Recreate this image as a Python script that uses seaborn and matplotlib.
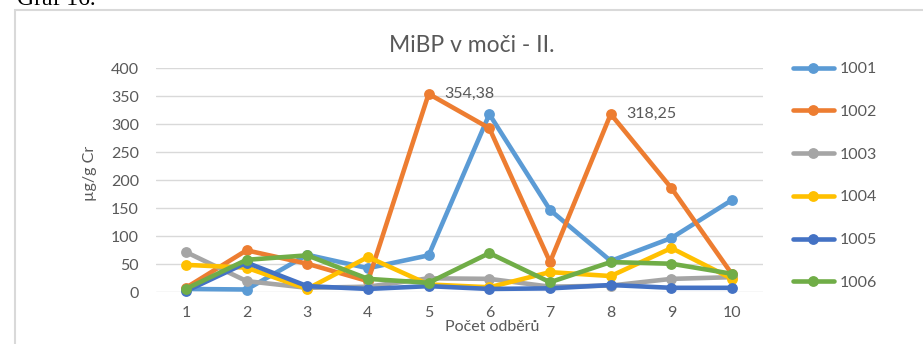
import matplotlib
matplotlib.use("Agg")
import matplotlib.pyplot as plt
import seaborn as sns
import pandas as pd
from matplotlib.patches import Rectangle

# Odběry 1-10, hodnoty MiBP (µg/g Cr) pro jednotlivé osoby
odbery = [1, 2, 3, 4, 5, 6, 7, 8, 9, 10]
s1001 = [6, 5, 67, 43, 66, 318, 147, 56, 97, 165]
s1002 = [8, 75, 51, 20, 354.38, 293, 54, 318.25, 186, 32]
s1003 = [72, 20, 8, 10, 25, 24, 10, 12, 24, 27]
s1004 = [49, 44, 6, 63, 14, 9, 36, 29, 79, 24]
s1005 = [2, 53, 11, 6, 11, 6, 7, 13, 8, 8]
s1006 = [6, 58, 66, 24, 17, 70, 18, 54, 51, 33]
osoby = ["1001", "1002", "1003", "1004", "1005", "1006"]
barvy = ["#5B9BD5", "#ED7D31", "#A5A5A5", "#FFC000", "#4472C4", "#70AD47"]
y_ticks = [0, 50, 100, 150, 200, 250, 300, 350, 400]

serie = [s1001, s1002, s1003, s1004, s1005, s1006]
df = pd.DataFrame(
    [(o, x, v) for o, vals in zip(osoby, serie) for x, v in zip(odbery, vals)],
    columns=["osoba", "odber", "hodnota"],
)

sns.set_theme(style="white")
plt.rcParams["font.family"] = ["Lato", "DejaVu Sans"]
text_color = "#595959"
fs = 11.5

W, H = 923, 344
fig = plt.figure(figsize=(W / 100, H / 100), dpi=100)

# rámeček grafu
fig.patches.append(Rectangle((15 / W, -0.1), 1.2, 1.1 - 10 / H, transform=fig.transFigure,
                             fill=False, edgecolor="#D9D9D9", linewidth=1.5))
fig.text(17 / W, 1 - 5 / H, "Graf 16.", family="Liberation Serif", fontsize=17,
         color="black", va="baseline", ha="left")

left, right = 155.5 / W, 762.5 / W
bottom, top = 1 - 292.3 / H, 1 - 68.3 / H
ax = fig.add_axes([left, bottom, right - left, top - bottom])

sns.lineplot(data=df, x="odber", y="hodnota", hue="osoba", hue_order=osoby,
             palette=barvy, marker="o", markersize=7.8, markeredgewidth=0,
             linewidth=3.3, ax=ax, clip_on=False, zorder=3)

ax.set_xlim(0.5, 10.5)
ax.set_ylim(0, 400)
ax.set_xticks(odbery)
ax.set_xticklabels([str(v) for v in odbery])
ax.set_yticks(y_ticks)
ax.yaxis.grid(True, color="#D9D9D9", linewidth=1.0)
ax.xaxis.grid(False)
for sp in ax.spines.values():
    sp.set_visible(False)
ax.tick_params(axis="both", length=0, labelsize=fs, labelcolor=text_color)
ax.tick_params(axis="y", pad=12)
ax.tick_params(axis="x", pad=10)

ax.set_xlabel("Počet odběrů", fontsize=fs, color=text_color)
ax.xaxis.set_label_coords((492 - 155.5) / 607, -(327 - 292.3) / 224)
ax.xaxis.label.set_va("center")
ax.set_ylabel("µg/g Cr", fontsize=fs, color=text_color)
ax.yaxis.set_label_coords((90 - 155.5) / 607, (292.3 - 173) / 224)
ax.yaxis.label.set_va("center")

fig.text(472 / W, 1 - 45 / H, "MiBP v moči - II.", fontsize=16.5, color=text_color,
         ha="center", va="center")

# popisky maxim
for xi, v in [(5, s1002[4]), (8, s1002[7])]:
    ax.annotate(f"{v:.2f}".replace(".", ","), xy=(xi, v), xytext=(11, 0),
                textcoords="offset points", ha="left", va="center",
                fontsize=fs, color=text_color)

leg = ax.legend(loc="upper left", bbox_to_anchor=(793 / W, 1 - 62 / H),
                bbox_transform=fig.transFigure, frameon=False, fontsize=fs,
                handlelength=2.55, handletextpad=0.35, labelspacing=1.79,
                borderpad=0, borderaxespad=0, title=None)
for t in leg.get_texts():
    t.set_color(text_color)

fig.savefig("out.png", dpi=100)
